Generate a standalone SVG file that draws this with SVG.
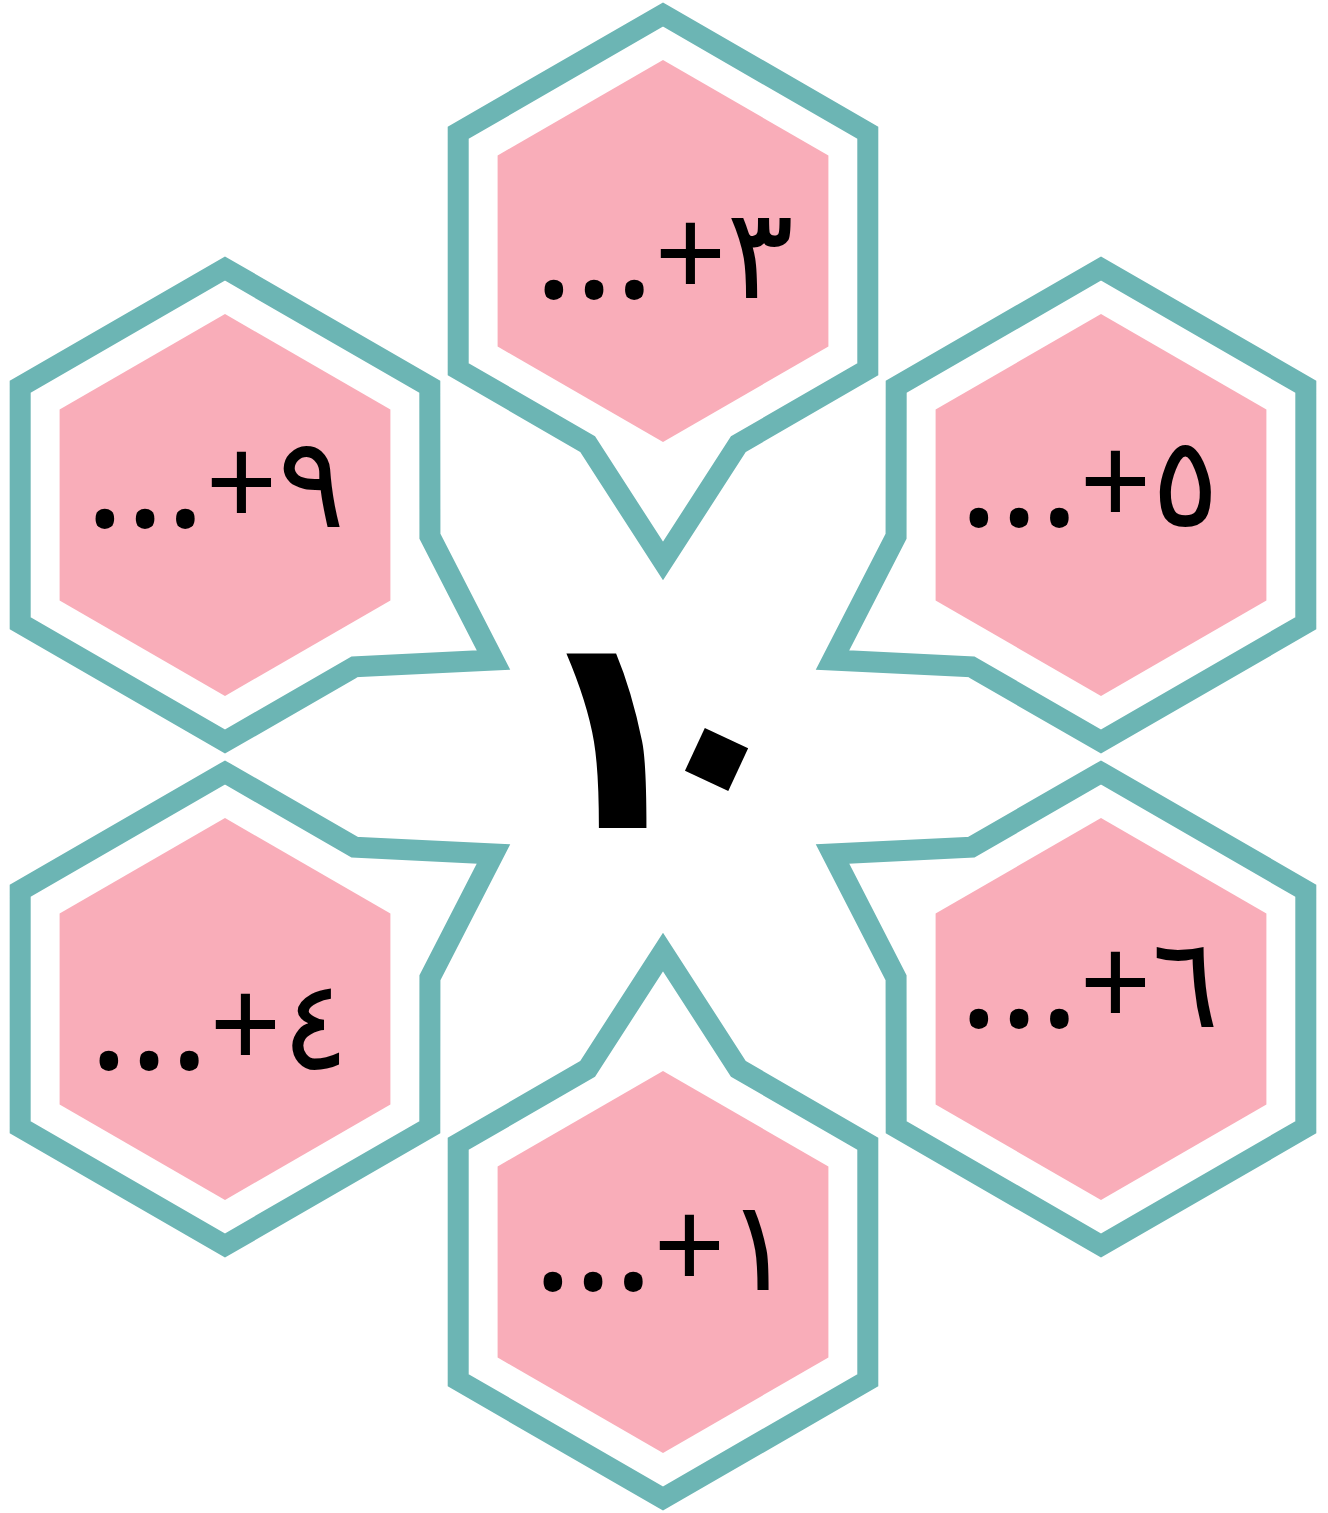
<svg xmlns="http://www.w3.org/2000/svg" xmlns:xlink="http://www.w3.org/1999/xlink" width="1328" height="1513" viewBox="0 0 1328 1513">
<style>
.outline{fill:none;stroke:#6cb5b4;stroke-width:21;stroke-linejoin:miter;stroke-miterlimit:10}
.pink{fill:#f9adb9}
.lbl{font-family:"Noto Sans","DejaVu Sans",sans-serif;font-size:126px;fill:#000;text-anchor:middle}
.dots{font-size:150px;letter-spacing:-4px}
.big{font-family:"DejaVu Sans",sans-serif;font-size:275px;font-weight:bold;fill:#000}
</style>
<defs>
<path id="outline" class="outline" d="M0,-236.5 L204.8,-118.25 L204.8,118.25 L75.4,193.1 L0,310 L-75.4,193.1 L-204.8,118.25 L-204.8,-118.25 Z"/>
<polygon id="pinkhex" class="pink" points="0,-191 165.4,-95.5 165.4,95.5 0,191 -165.4,95.5 -165.4,-95.5"/>
</defs>
<rect width="1328" height="1513" fill="#ffffff"/>
<g id="connectors"></g>
<g id="node-top" transform="translate(663,251)">
<use xlink:href="#outline"/>
<use xlink:href="#pinkhex"/>
<text class="lbl" x="1" y="47"><tspan class="dots">...</tspan>+٣</text>
</g>
<g id="node-upper-left" transform="translate(225,505)">
<use xlink:href="#outline" transform="rotate(-60)"/>
<use xlink:href="#pinkhex"/>
<text class="lbl" x="-10" y="22"><tspan class="dots">...</tspan>+٩</text>
</g>
<g id="node-upper-right" transform="translate(1101,505)">
<use xlink:href="#outline" transform="rotate(60)"/>
<use xlink:href="#pinkhex"/>
<text class="lbl" x="-12" y="21"><tspan class="dots">...</tspan>+٥</text>
</g>
<g id="node-lower-left" transform="translate(225,1009)">
<use xlink:href="#outline" transform="rotate(-120)"/>
<use xlink:href="#pinkhex"/>
<text class="lbl" x="-6" y="60"><tspan class="dots">...</tspan>+٤</text>
</g>
<g id="node-lower-right" transform="translate(1101,1009)">
<use xlink:href="#outline" transform="rotate(120)"/>
<use xlink:href="#pinkhex"/>
<text class="lbl" x="-12" y="18"><tspan class="dots">...</tspan>+٦</text>
</g>
<g id="node-bottom" transform="translate(663,1262)">
<use xlink:href="#outline" transform="rotate(180)"/>
<use xlink:href="#pinkhex"/>
<text class="lbl" x="0" y="28"><tspan class="dots">...</tspan>+١</text>
</g>
<g id="node-center">
<text class="big" x="528" y="828" dx="0 -88" dy="0 -34" rotate="0 25">١٠</text>
</g>
</svg>
